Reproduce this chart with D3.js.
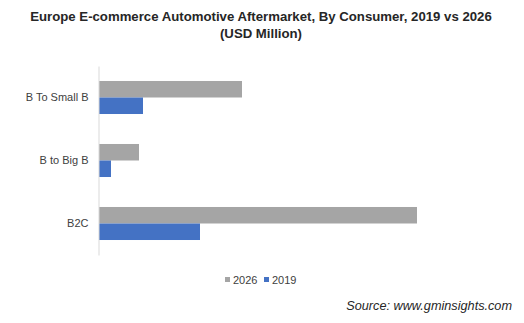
<!DOCTYPE html>
<html>
<head>
<meta charset="utf-8">
<script src="https://cdn.jsdelivr.net/npm/d3@7"></script>
<style>
  body { margin: 0; background: #fff; }
  svg { font-family: "Liberation Sans", Arial, sans-serif; }
</style>
</head>
<body>
<svg id="chart" width="524" height="323"></svg>
<script>
const categories = ['B To Small B', 'B to Big B', 'B2C'];
const series = ['2026', '2019'];
const values2026 = [1430, 400, 3180];
const values2019 = [440, 120, 1010];
const colors = ['#A5A5A5', '#4472C4'];

const svg = d3.select('#chart');

// title
svg.append('text')
  .attr('x', 261).attr('y', 21)
  .attr('text-anchor', 'middle')
  .style('font-size', '13.2px').style('font-weight', 'bold').style('fill', '#262626')
  .text('Europe E-commerce Automotive Aftermarket, By Consumer, 2019 vs 2026');
svg.append('text')
  .attr('x', 261).attr('y', 38)
  .attr('text-anchor', 'middle')
  .style('font-size', '13.2px').style('font-weight', 'bold').style('fill', '#262626')
  .text('(USD Million)');

const x = d3.scaleLinear().domain([0, 3180]).range([99, 417]);
const y = d3.scaleBand().domain(categories).range([66, 255])
  .paddingInner(0.476).paddingOuter(0.238);
const ySub = d3.scaleBand().domain(series).range([0, y.bandwidth()]);

const rows = categories.map((c, i) => ({ cat: c, vals: [values2026[i], values2019[i]] }));

const groups = svg.selectAll('g.cat')
  .data(rows)
  .enter()
  .append('g')
  .attr('class', 'cat')
  .attr('transform', d => `translate(0,${y(d.cat)})`);

groups.selectAll('rect')
  .data(d => d.vals.map((v, j) => ({ key: series[j], v, j })))
  .enter()
  .append('rect')
  .attr('x', x(0))
  .attr('y', d => ySub(d.key))
  .attr('width', d => x(d.v) - x(0))
  .attr('height', ySub.bandwidth())
  .style('fill', d => colors[d.j]);

// category axis
const yAxis = svg.append('g')
  .attr('transform', `translate(${x(0) - 0.5},0)`)
  .call(d3.axisLeft(y).tickSize(0).tickPadding(10));
yAxis.select('.domain').style('stroke', '#D9D9D9');
yAxis.selectAll('text')
  .style('font-size', '11px').style('fill', '#404040')
  .style('font-family', '"Liberation Sans", Arial, sans-serif');

// legend
const legend = svg.append('g');
const legendX = [225, 264];
series.forEach((s, i) => {
  legend.append('rect')
    .attr('x', legendX[i]).attr('y', 277)
    .attr('width', 5).attr('height', 5)
    .style('fill', colors[i]);
  legend.append('text')
    .attr('x', legendX[i] + 8).attr('y', 284)
    .style('font-size', '11px').style('fill', '#404040')
    .text(s);
});

// source
svg.append('text')
  .attr('x', 512).attr('y', 310)
  .attr('text-anchor', 'end')
  .style('font-size', '12.7px').style('font-style', 'italic').style('fill', '#262626')
  .text('Source: www.gminsights.com');
</script>
</body>
</html>
